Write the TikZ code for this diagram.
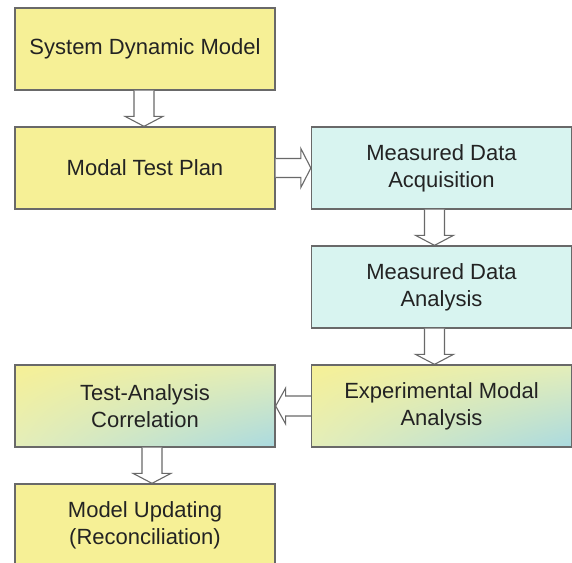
\documentclass[tikz,border=0pt]{standalone}
\usepackage{fontspec}
\setmainfont{Liberation Sans}
\usetikzlibrary{calc,shadings}
\definecolor{boxyellow}{RGB}{246,240,150}
\definecolor{boxcyan}{RGB}{216,244,240}
\definecolor{gradblue}{RGB}{170,218,224}
\definecolor{gradmid}{RGB}{228,238,186}
\definecolor{edgegray}{RGB}{105,105,105}
\definecolor{txt}{RGB}{35,35,35}
\tikzset{
  flowbox/.style={draw=edgegray, line width=1.3bp, minimum width=260bp, minimum height=82bp,
    inner sep=0pt, align=center, text=txt, font=\fontsize{22bp}{27bp}\selectfont},
  ybox/.style={flowbox, fill=boxyellow},
  cbox/.style={flowbox, fill=boxcyan},
  gbox/.style={flowbox, upper left=boxyellow, upper right=gradmid, lower left=gradmid, lower right=gradblue},
  blockarrow/.style={draw=edgegray, line width=1.1bp, fill=white, line join=miter},
}
% down block arrow: #1 from node, #2 to node, #3 x offset
\newcommand\blockdn[3]{%
  \draw[blockarrow] ($(#1.south)+(#3-10,0)$) -- ($(#2.north)+(#3-10,-10)$) -- ($(#2.north)+(#3-19,-10)$)
    -- ($(#2.north)+(#3,0)$) -- ($(#2.north)+(#3+19,-10)$) -- ($(#2.north)+(#3+10,-10)$)
    -- ($(#1.south)+(#3+10,0)$);}
\begin{document}
\begin{tikzpicture}[x=1bp,y=-1bp]
\useasboundingbox (0,0) rectangle (572,563);
\clip (0,0) rectangle (572,563);
\node[ybox] (sdm) at (145,49) {System Dynamic Model};
\node[ybox] (mtp) at (145,168) {Modal Test Plan};
\node[cbox] (mda) at (441.5,168) {Measured Data\\Acquisition};
\node[cbox] (mdan) at (441.5,287) {Measured Data\\Analysis};
\node[gbox] (ema) at (441.5,406) {Experimental Modal\\Analysis};
\node[gbox] (tac) at (145,406) {Test-Analysis\\Correlation};
\node[ybox] (mu) at (145,525) {Model Updating\\(Reconciliation)};
\blockdn{sdm}{mtp}{-1}
\blockdn{mda}{mdan}{-7}
\blockdn{mdan}{ema}{-7}
\blockdn{tac}{mu}{7}
% right arrow mtp -> mda
\draw[blockarrow] ($(mtp.east)+(0,-9.5)$) -- ($(mda.west)+(-10,-9.5)$) -- ($(mda.west)+(-10,-19.5)$)
  -- (mda.west) -- ($(mda.west)+(-10,19.5)$) -- ($(mda.west)+(-10,9.5)$) -- ($(mtp.east)+(0,9.5)$);
% left arrow ema -> tac
\draw[blockarrow] ($(ema.west)+(0,-10)$) -- ($(tac.east)+(10,-10)$) -- ($(tac.east)+(10,-18)$)
  -- (tac.east) -- ($(tac.east)+(10,18)$) -- ($(tac.east)+(10,10)$) -- ($(ema.west)+(0,10)$);
\end{tikzpicture}
\end{document}
